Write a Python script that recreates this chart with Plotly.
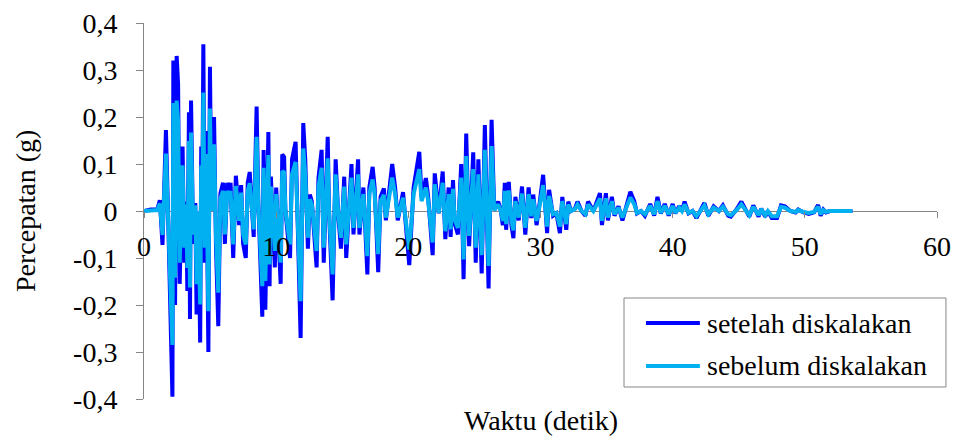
import plotly.graph_objects as go

# time (s)
waktu = [
    0, 0.5, 1.0, 1.2, 1.4, 1.66, 1.85, 2.15, 2.22, 2.35,
    2.47, 2.58, 2.7, 2.92, 3.05, 3.18, 3.28, 3.4, 3.48, 3.56,
    3.72, 3.88, 3.98, 4.1, 4.25, 4.33, 4.42, 4.49, 4.6, 4.7,
    4.87, 4.99, 5.1, 5.3, 5.45, 5.62, 5.78, 5.98, 6.12, 6.3,
    6.45, 6.55, 6.75, 6.95, 7.05, 7.2, 7.35, 7.5, 7.7, 7.85,
    8.0, 8.3, 8.52, 8.65, 8.95, 9.05, 9.18, 9.41, 9.5, 9.6,
    9.9, 10.0, 10.34, 10.46, 10.6, 10.7, 11.05, 11.2, 11.47, 11.6,
    11.85, 12.05, 12.2, 12.4, 12.55, 12.7, 13.06, 13.2, 13.44, 13.6,
    13.9, 14.0, 14.27, 14.5, 14.7, 14.9, 15.15, 15.3, 15.7, 15.85,
    16.2, 16.3, 16.6, 16.9, 17.05, 17.3, 17.45, 17.72, 17.9, 18.15,
    18.3, 18.78, 19.0, 19.2, 19.6, 20.07, 20.4, 20.83, 21.0, 21.33,
    21.5, 21.84, 22.0, 22.3, 22.6, 22.8, 23.05, 23.2, 23.38, 23.5,
    23.75, 24.0, 24.18, 24.38, 24.6, 24.91, 25.1, 25.3, 25.55, 25.79,
    26.07, 26.3, 26.5, 26.8, 27.0, 27.15, 27.3, 27.4, 27.6, 27.8,
    27.95, 28.1, 28.35, 28.6, 28.85, 29.1, 29.3, 29.45, 29.7, 29.95,
    30.2, 30.5, 30.65, 30.95, 31.2, 31.47, 31.65, 31.95, 32.1, 32.3,
    32.6, 32.8, 33.1, 33.4, 33.6, 34.0, 34.2, 34.5, 34.65, 34.95,
    35.1, 35.4, 35.6, 35.9, 36.2, 36.4, 36.8, 37.1, 37.3, 37.6,
    37.9, 38.3, 38.6, 38.85, 39.1, 39.4, 39.7, 40.0, 40.2, 40.5,
    40.7, 40.9, 41.2, 41.5, 41.8, 42.4, 42.7, 43.1, 43.5, 43.8,
    44.2, 44.4, 44.8, 45.2, 45.5, 45.8, 46.1, 46.5, 46.7, 47.0,
    47.2, 47.5, 47.9, 48.2, 48.5, 48.9, 49.3, 49.5, 49.9, 50.3,
    50.7, 51.0, 51.2, 51.4, 51.6, 51.9, 52.5, 53.6,
]

# acceleration after scaling (g)
setelah = [
    0, 0.003, 0.003, 0.023, -0.072, 0.172, -0.04, -0.395, 0.32, -0.20,
    0.33, 0.27, -0.155, 0.137, -0.11, 0.02, -0.17, 0.21, -0.23, 0.235,
    -0.07, 0.017, -0.22, 0.0, -0.28, 0.137, 0.05, 0.355, -0.11, 0.17,
    -0.30, 0.307, 0.0, 0.20, -0.08, -0.245, 0.037, 0.06, -0.07, 0.06,
    0.035, 0.06, -0.1, 0.075, 0.04, -0.03, 0.055, -0.07, -0.1, 0.06,
    0.083, -0.055, 0.222, 0.02, -0.225, 0.13, -0.21, 0.168, -0.16, 0.073,
    -0.12, 0.05, -0.155, 0.12, 0.115, 0.0, -0.1, 0.11, 0.147, -0.03,
    -0.27, 0.187, 0.11, -0.08, 0.035, 0.02, -0.12, 0.07, 0.13, -0.11,
    0.158, 0.0, -0.19, 0.11, -0.01, -0.08, 0.073, -0.1, 0.1, -0.05,
    0.11, -0.05, 0.05, -0.135, 0.05, 0.094, 0.05, -0.13, 0.03, 0.048,
    -0.02, 0.1, 0.05, -0.02, 0.04, -0.115, 0.05, 0.126, 0.03, 0.07,
    0.03, -0.094, 0.08, -0.005, 0.084, -0.06, 0.05, -0.055, 0.066, -0.026,
    -0.05, 0.1, -0.145, 0.165, -0.075, 0.125, -0.11, 0.11, -0.133, 0.183,
    -0.165, 0.194, 0.002, 0.02, 0.0, -0.03, 0.06, -0.04, 0.062, -0.03,
    -0.058, 0.03, -0.02, 0.052, -0.05, 0.05, -0.015, 0.035, -0.03, 0.02,
    0.077, -0.047, 0.045, -0.01, -0.005, -0.047, 0.03, -0.04, 0.02, 0.0,
    0.005, 0.02, 0.0, -0.01, 0.02, 0.0, 0.015, 0.038, -0.03, 0.038,
    -0.02, 0.03, -0.01, 0.01, -0.02, 0.0, 0.041, 0.02, -0.005, 0.0,
    -0.01, 0.015, -0.01, 0.03, -0.005, 0.015, -0.01, 0.015, -0.005, 0.01,
    0.0, 0.02, -0.005, 0.0, -0.015, 0.017, -0.01, 0.01, 0.0, 0.012,
    -0.01, -0.012, 0.002, 0.02, 0.005, -0.012, 0.012, -0.012, 0.005, -0.012,
    0.0, -0.015, -0.015, 0.012, 0.01, 0.0, -0.003, 0.003, -0.003, -0.006,
    -0.003, 0.013, -0.01, 0.003, -0.003, 0.0, 0.0, 0.0,
]

# acceleration before scaling (g)
sebelum = [
    0, 0.002, 0.002, 0.016, -0.051, 0.122, -0.028, -0.285, 0.23, -0.142,
    0.235, 0.192, -0.11, 0.097, -0.078, 0.014, -0.121, 0.149, -0.163, 0.167,
    -0.05, 0.012, -0.156, 0.0, -0.199, 0.097, 0.036, 0.252, -0.078, 0.121,
    -0.213, 0.218, 0.0, 0.142, -0.057, -0.174, 0.026, 0.043, -0.05, 0.043,
    0.025, 0.043, -0.071, 0.053, 0.028, -0.021, 0.039, -0.05, -0.071, 0.043,
    0.059, -0.039, 0.158, 0.014, -0.16, 0.092, -0.149, 0.119, -0.114, 0.052,
    -0.085, 0.036, -0.11, 0.085, 0.082, 0.0, -0.071, 0.078, 0.104, -0.021,
    -0.192, 0.133, 0.078, -0.057, 0.025, 0.014, -0.085, 0.05, 0.092, -0.078,
    0.112, 0.0, -0.135, 0.078, -0.007, -0.057, 0.052, -0.071, 0.071, -0.036,
    0.078, -0.036, 0.036, -0.096, 0.036, 0.067, 0.036, -0.092, 0.021, 0.034,
    -0.014, 0.071, 0.036, -0.014, 0.028, -0.082, 0.036, 0.089, 0.021, 0.05,
    0.021, -0.067, 0.057, -0.004, 0.06, -0.043, 0.036, -0.039, 0.047, -0.018,
    -0.036, 0.071, -0.103, 0.117, -0.053, 0.089, -0.078, 0.078, -0.094, 0.13,
    -0.117, 0.138, 0.001, 0.014, 0.0, -0.021, 0.043, -0.028, 0.044, -0.021,
    -0.041, 0.021, -0.014, 0.037, -0.036, 0.036, -0.011, 0.025, -0.021, 0.014,
    0.055, -0.033, 0.032, -0.007, -0.004, -0.033, 0.021, -0.028, 0.014, 0.0,
    0.004, 0.014, 0.0, -0.007, 0.014, 0.0, 0.011, 0.027, -0.021, 0.027,
    -0.014, 0.021, -0.007, 0.007, -0.014, 0.0, 0.029, 0.014, -0.004, 0.0,
    -0.007, 0.011, -0.007, 0.021, -0.004, 0.011, -0.007, 0.011, -0.004, 0.007,
    0.0, 0.014, -0.004, 0.0, -0.011, 0.012, -0.007, 0.007, 0.0, 0.009,
    -0.007, -0.009, 0.001, 0.014, 0.004, -0.009, 0.009, -0.009, 0.004, -0.009,
    0.0, -0.011, -0.011, 0.009, 0.007, 0.0, -0.002, 0.002, -0.002, -0.004,
    -0.002, 0.009, -0.007, 0.002, -0.002, 0.0, 0.0, 0.0,
]

assert len(waktu) == len(setelah) == len(sebelum)

series_names = ["setelah diskalakan", "sebelum diskalakan"]
series_colors = ["#0000FF", "#00B0F0"]

y_ticks = [-0.4, -0.3, -0.2, -0.1, 0, 0.1, 0.2, 0.3, 0.4]
y_tick_text = ["-0,4", "-0,3", "-0,2", "-0,1", "0", "0,1", "0,2", "0,3", "0,4"]
x_ticks = [0, 10, 20, 30, 40, 50, 60]
x_tick_text = ["0", "10", "20", "30", "40", "50", "60"]

FONT = "Liberation Serif"
FS = 28
GRAY = "#868686"

fig = go.Figure()
for name, col, vals in zip(series_names, series_colors, [setelah, sebelum]):
    fig.add_trace(go.Scatter(x=waktu, y=vals, mode="lines", name=name,
                             showlegend=False,
                             line=dict(color=col, width=4)))

# legend drawn as a box with sample lines and text (paper coordinates)
shapes = [dict(type="rect", xref="paper", yref="paper",
               x0=0.6053, x1=1.0113, y0=0.0319, y1=0.2686,
               line=dict(color=GRAY, width=1), fillcolor="white", layer="above")]
annotations = []
for i, (name, col) in enumerate(zip(series_names, series_colors)):
    yy = 0.2021 - i * 0.1143
    shapes.append(dict(type="line", xref="paper", yref="paper",
                       x0=0.633, x1=0.701, y0=yy, y1=yy,
                       line=dict(color=col, width=4), layer="above"))
    annotations.append(dict(text=name, x=0.7075, y=yy, xref="paper", yref="paper",
                            xanchor="left", yanchor="middle", showarrow=False,
                            font=dict(family=FONT, size=FS, color="black")))

annotations += [
    dict(text="Waktu (detik)", x=0.5, y=-0.056, xref="paper", yref="paper",
         xanchor="center", yanchor="middle", showarrow=False,
         font=dict(family=FONT, size=FS)),
    dict(text="Percepatan (g)", x=-0.150, y=0.5, xref="paper", yref="paper",
         xanchor="center", yanchor="middle", textangle=-90, showarrow=False,
         font=dict(family=FONT, size=FS)),
]

fig.update_layout(
    width=955, height=437,
    margin=dict(l=144, r=18, t=23, b=38),
    paper_bgcolor="white", plot_bgcolor="white",
    font=dict(family=FONT, size=FS, color="black"),
    showlegend=False,
    hovermode=False,
    xaxis=dict(range=[0, 60], tickvals=x_ticks, ticktext=x_tick_text,
               showgrid=False, zeroline=False, showline=False,
               ticks="outside", ticklen=6, tickcolor=GRAY,
               anchor="free", position=0.5, ticklabelstandoff=4,
               automargin=False, ticklabeloverflow="allow",
               tickfont=dict(family=FONT, size=FS)),
    yaxis=dict(range=[-0.4, 0.4], tickvals=y_ticks, ticktext=y_tick_text,
               showgrid=False, zeroline=True, zerolinecolor=GRAY, zerolinewidth=1,
               showline=True, linecolor=GRAY, linewidth=1,
               ticks="outside", ticklen=7, tickcolor=GRAY,
               ticklabelstandoff=13, automargin=False, ticklabeloverflow="allow",
               tickfont=dict(family=FONT, size=FS)),
    shapes=shapes,
    annotations=annotations,
)

# remove the default 8px page margin so the figure fills the window exactly
fig.write_html("out.html",
               config={"displayModeBar": False, "staticPlot": True},
               post_script="document.body.style.margin='0px';document.body.style.overflow='hidden';")
